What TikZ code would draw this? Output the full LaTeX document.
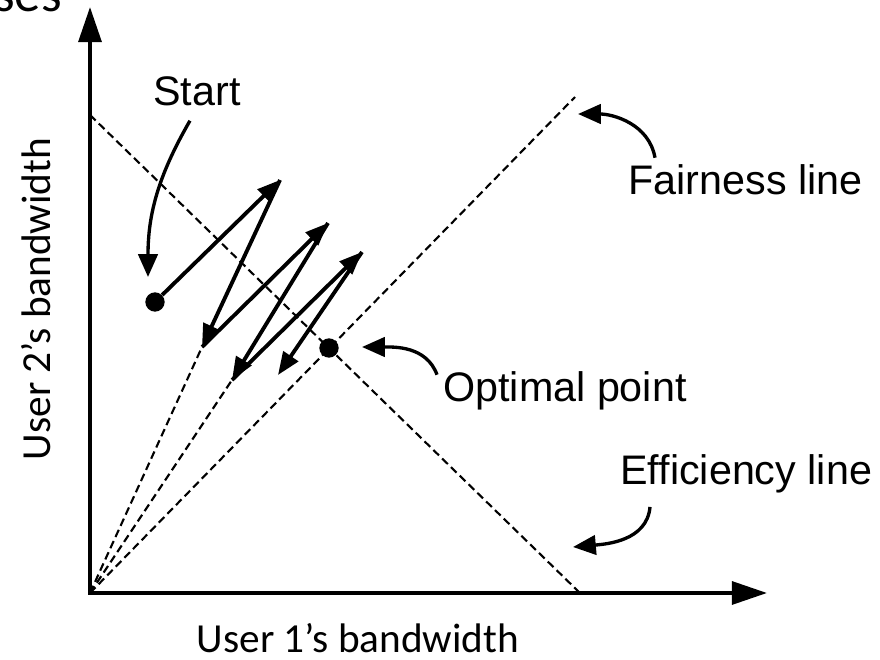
\documentclass[tikz,border=0pt]{standalone}
\usepackage{fontspec}
\setmainfont{Liberation Sans}
\newfontfamily\slidefont{Carlito}
\usetikzlibrary{arrows.meta,positioning}
\tikzset{
    axes/.style={line width=2.2pt,{Triangle[length=20pt,width=13pt]}-{Triangle[length=20pt,width=13pt]}},
    guide/.style={line width=1.2pt,dash pattern=on 4.5pt off 2.5pt},
    zig/.style={line width=2.2pt,-{Triangle[length=13pt,width=10pt]}},
    pointer/.style={line width=1.9pt,-{Triangle[length=13pt,width=11pt]}},
    dot/.style={circle,fill,inner sep=0pt,minimum size=11pt},
    lbl/.style={font=\fontsize{23.5}{28}\selectfont,inner sep=0pt},
    axlbl/.style={font=\slidefont\fontsize{23.5}{28}\selectfont,inner sep=0pt}
}

\begin{document}
\begin{tikzpicture}[x=0.02cm,y=0.02cm]
    \useasboundingbox (0,0) rectangle (880,660);
    \node[font=\slidefont\fontsize{30}{36}\selectfont,inner sep=0pt,anchor=base west] (title) at (-6,648) {ses};

    % axes and guide lines
    \coordinate (origin) at (90,67);
    \coordinate (ytip) at (90,653);
    \coordinate (xtip) at (767,67);
    \coordinate (efftop) at (90,545);
    \coordinate (efffoot) at (580,67);
    \coordinate (fairend) at (575,563);
    \draw[axes] (ytip) -- (origin) -- (xtip);
    \draw[guide] (efftop) -- (efffoot);
    \draw[guide] (origin) -- (fairend);

    % zigzag
    \node[dot] (start) at (155,358) {};
    \node[dot] (optimal) at (329,312) {};
    \coordinate (p1) at (280,480);
    \coordinate (p2) at (202,313);
    \coordinate (p3) at (328,437);
    \coordinate (p4) at (232,280);
    \coordinate (p5) at (362,408);
    \coordinate (p6) at (278,285);
    \draw[guide] (origin) -- (p2);
    \draw[guide] (origin) -- (p4);
    \foreach \a/\b in {start/p1,p1/p2,p2/p3,p3/p4,p4/p5,p5/p6}
        \draw[zig] (\a) -- (\b);

    % labels
    \node[lbl,anchor=base west] (startlbl) at (153,554) {Start};
    \node[lbl,anchor=base west] (fairlbl) at (628,465) {Fairness line};
    \node[lbl,anchor=base west] (optlbl) at (443,258) {Optimal point};
    \node[lbl,anchor=base west] (efflbl) at (620,175) {Efficiency line};
    \node[axlbl,anchor=base] (xlbl) at (358,8) {User 1’s bandwidth};
    \node[axlbl,anchor=base,rotate=90] (ylbl) at (50,361) {User 2’s bandwidth};

    \coordinate (starttip) at (148,383);
    \coordinate (fairtip) at (578,546);
    \coordinate (opttip) at (362,313);
    \coordinate (efftip) at (573,113);
    \draw[pointer] ([shift={(-7,-14)}]startlbl.south) to[out=-120,in=90] (starttip);
    \draw[pointer] ([shift={(27,7)}]fairlbl.north west) to[out=100,in=0] (fairtip);
    \draw[pointer] ([shift={(-6,-3)}]optlbl.north west) to[out=110,in=0] (opttip);
    \draw[pointer] ([shift={(30,-13)}]efflbl.south west) to[out=-95,in=5] (efftip);
\end{tikzpicture}
\end{document}
